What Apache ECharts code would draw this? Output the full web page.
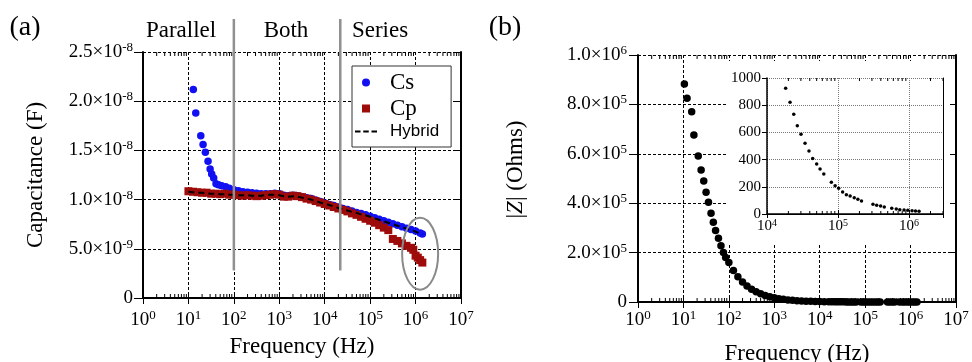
<!DOCTYPE html>
<html>
<head>
<meta charset="utf-8">
<script src="https://cdn.jsdelivr.net/npm/echarts@6/dist/echarts.min.js"></script>
<style>
  html, body { margin: 0; padding: 0; background: #fff; }
  #chart { width: 972px; height: 362px; }
</style>
</head>
<body>
<div id="chart"></div>
<script>
// (a) capacitance vs frequency, values in nF
var csFreq = [12.8, 14.5, 18.7, 21, 23.6, 27, 30, 32.5, 36, 40.5, 45.7, 53.7, 66, 79.4,
  100, 126, 158, 200, 251, 316, 398, 501, 631, 794,
  1e3, 1.26e3, 1.58e3, 2e3, 2.51e3, 3.16e3, 3.98e3, 5.01e3, 6.31e3, 7.94e3,
  1e4, 1.26e4, 1.58e4, 2e4, 2.51e4, 3.16e4, 3.98e4, 5.01e4, 6.31e4, 7.94e4,
  1e5, 1.26e5, 1.58e5, 2e5, 2.51e5, 3.16e5, 3.98e5, 5.01e5, 6.31e5, 7.94e5,
  1e6, 1.26e6, 1.41e6];
var csCap = [21.2, 18.8, 16.5, 15.6, 14.8, 13.9, 13.1, 12.6, 12.2, 11.6, 11.5, 11.4, 11.3, 11.15,
  11.0, 10.9, 10.8, 10.75, 10.7, 10.65, 10.6, 10.6, 10.6, 10.65,
  10.6, 10.45, 10.4, 10.45, 10.4, 10.3, 10.2, 10.1, 9.95, 9.8,
  9.65, 9.5, 9.4, 9.25, 9.1, 9.0, 8.85, 8.7, 8.6, 8.45,
  8.3, 8.15, 8.0, 7.85, 7.7, 7.55, 7.4, 7.25, 7.1, 6.95,
  6.8, 6.6, 6.5];

var cpFreq = [10, 12.6, 15.8, 20, 25.1, 31.6, 39.8, 50.1, 63.1, 79.4,
  100, 126, 158, 200, 251, 316, 398, 501, 631, 794,
  1e3, 1.26e3, 1.58e3, 2e3, 2.51e3, 3.16e3, 3.98e3, 5.01e3, 6.31e3, 7.94e3,
  1e4, 1.26e4, 1.58e4, 2e4, 2.51e4, 3.16e4, 3.98e4, 5.01e4, 6.31e4, 7.94e4,
  1e5, 1.26e5, 1.58e5, 2e5, 2.51e5, 3.16e5, 3.98e5, 5.01e5, 6.31e5, 7.94e5,
  8.91e5, 1e6, 1.12e6, 1.26e6, 1.41e6];
var cpCap = [10.85, 10.8, 10.75, 10.7, 10.7, 10.6, 10.6, 10.55, 10.6, 10.5,
  10.5, 10.45, 10.4, 10.45, 10.4, 10.35, 10.4, 10.45, 10.5, 10.55,
  10.5, 10.3, 10.3, 10.4, 10.35, 10.25, 10.1, 10.0, 9.85, 9.7,
  9.55, 9.4, 9.25, 9.1, 8.95, 8.8, 8.6, 8.45, 8.25, 8.05,
  7.85, 7.65, 7.4, 7.15, 6.9, 6.0, 5.8, 5.55, 5.3, 5.1,
  4.9, 4.3, 4.1, 3.85, 3.6];

var hyFreq = [10, 12.6, 15.8, 20, 25.1, 31.6, 39.8, 50.1, 63.1, 79.4,
  100, 126, 158, 200, 251, 316, 398, 501, 631, 794,
  1e3, 1.26e3, 1.58e3, 2e3, 2.51e3, 3.16e3, 3.98e3, 5.01e3, 6.31e3, 7.94e3,
  1e4, 1.26e4, 1.58e4, 2e4, 2.51e4, 3.16e4, 3.98e4, 5.01e4, 6.31e4, 7.94e4,
  1e5, 1.26e5, 1.58e5, 2e5, 2.51e5, 3.16e5, 3.98e5, 5.01e5, 6.31e5, 7.94e5,
  1e6, 1.26e6, 1.41e6];
var hyCap = [10.8, 10.75, 10.7, 10.7, 10.65, 10.6, 10.6, 10.55, 10.55, 10.5,
  10.5, 10.45, 10.45, 10.45, 10.4, 10.4, 10.4, 10.45, 10.5, 10.5,
  10.45, 10.35, 10.3, 10.35, 10.3, 10.2, 10.1, 10.0, 9.85, 9.7,
  9.6, 9.45, 9.3, 9.15, 9.0, 8.9, 8.75, 8.65, 8.5, 8.4,
  8.25, 8.1, 7.95, 7.8, 7.65, 7.5, 7.35, 7.2, 7.05, 6.9,
  6.75, 6.55, 6.45];

// (b) |Z| vs frequency, Ohms (low/mid range, then the points also shown in the inset)
var zFreq = [10.5, 12, 15.2, 17, 21.2, 24.5, 28, 31.5, 35.6, 40.5,
  45.5, 51, 59, 67, 76, 85, 100, 126, 158, 200,
  251, 316, 398, 501, 631, 794, 1e3, 1.26e3, 1.58e3, 2e3,
  2.51e3, 3.16e3, 3.98e3, 5.01e3, 6.31e3, 7.94e3, 1e4, 1.26e4, 1.58e4];
var zMag = [8.83e5, 8.25e5, 7.7e5, 6.76e5, 5.91e5, 5.34e5, 4.9e5, 4.44e5, 4.04e5, 3.59e5,
  3.23e5, 2.89e5, 2.58e5, 2.28e5, 2.0e5, 1.8e5, 1.6e5, 1.28e5, 1.02e5, 8.1e4,
  6.5e4, 5.2e4, 4.1e4, 3.3e4, 2.6e4, 2.1e4, 1.7e4, 1.35e4, 1.08e4, 8.6e3,
  6.9e3, 5.5e3, 4.4e3, 3.5e3, 2.8e3, 2.2e3, 1.75e3, 1.4e3, 1.1e3];
var insetFreq = [1.83e4, 2.11e4, 2.38e4, 2.67e4, 3.01e4, 3.43e4, 3.9e4, 4.4e4, 5.0e4, 5.58e4,
  6.3e4, 8.05e4, 9.1e4, 1.02e5, 1.16e5, 1.31e5, 1.48e5, 1.69e5, 1.9e5, 2.14e5,
  3.1e5, 3.5e5, 3.97e5, 4.47e5, 5.7e5, 6.6e5, 7.4e5, 8.5e5, 9.6e5, 1.1e6,
  1.23e6, 1.38e6];
var insetMag = [924, 821, 733, 649, 586, 520, 463, 409, 368, 331,
  294, 233, 208, 189, 162, 142, 132, 120, 108, 96,
  71, 64, 59, 51, 42, 37, 32, 29, 27, 24,
  22, 20];

// axis ticks
var capTicks = [0, 5e-9, 1e-8, 1.5e-8, 2e-8, 2.5e-8];
var zTicks = [0, 2e5, 4e5, 6e5, 8e5, 1e6];
var insetTicks = [0, 200, 400, 600, 800, 1000];
var freqRange = [1, 1e7];
var insetFreqRange = [1e4, 3e6];
var minorMult = [2, 3, 4, 5, 6, 7, 8, 9];

var serif = 'Liberation Serif';
var sans = 'Liberation Sans';
var squareIcon = 'path://M0,0L10,0L10,10L0,10Z';
var dashIcon = 'path://M0,0H6V2H0Z M9,0H15V2H9Z M18,0H24V2H18Z';

function pairs(xs, ys, k) {
  return xs.map(function (x, i) { return [x, ys[i] * (k || 1)]; });
}

function minorTicks(range) {
  var out = [];
  for (var d = range[0]; d < range[1]; d *= 10) {
    minorMult.forEach(function (m) {
      if (d * m <= range[1] * 1.0001) out.push(d * m);
    });
  }
  return out;
}

// 2.5x10^-8 style labels
function sciLabel(v) {
  if (v === 0) return '{b|0}';
  var e = Math.floor(Math.log10(v) + 1e-9);
  var m = (v / Math.pow(10, e)).toFixed(1);
  return '{b|' + m + '×10}{s|' + e + '}';
}
function powLabel(v) {
  var e = Math.log10(v);
  if (Math.abs(e - Math.round(e)) > 1e-6) return '';
  return '{b|10}{s|' + Math.round(e) + '}';
}
function plainLabel(v) { return '{b|' + v + '}'; }

function labelStyle(fmt, margin, size, sup, pad) {
  return {
    formatter: fmt, margin: margin, fontFamily: serif, fontSize: size, color: '#000',
    rich: {
      b: { fontFamily: serif, fontSize: size, color: '#000' },
      s: { fontFamily: serif, fontSize: sup, color: '#000', padding: [0, 0, pad, 0] }
    }
  };
}

var dashed = { color: '#000', width: 1, type: [3, 2] };
var dotted = { color: '#777', width: 1, type: [1, 1] };

function xBottom(grid, range, o) {
  return {
    type: 'log', logBase: 10, gridIndex: grid, min: range[0], max: range[1], z: o.z || 0,
    axisLine: { lineStyle: { color: '#000', width: o.lw } },
    axisTick: { inside: true, length: o.tick, lineStyle: { color: '#000', width: 1 } },
    axisLabel: labelStyle(powLabel, o.margin, o.fs, o.sup, o.pad),
    splitLine: { show: true, lineStyle: o.split },
    name: o.name || '', nameLocation: 'middle', nameGap: o.nameGap,
    nameTextStyle: { fontFamily: serif, fontSize: 23, color: '#000' }
  };
}
function xTop(grid, range, o) {
  return {
    type: 'log', logBase: 10, gridIndex: grid, position: 'top', min: range[0], max: range[1], z: o.z || 0,
    axisLine: { lineStyle: { color: '#000', width: o.lw } },
    axisTick: { inside: true, length: o.tick, lineStyle: { color: '#000', width: 1 } },
    axisLabel: { show: false }, splitLine: { show: false }
  };
}
function yLeft(grid, ticks, o) {
  return {
    type: 'value', gridIndex: grid, min: ticks[0], max: ticks[ticks.length - 1], interval: ticks[1] - ticks[0],
    z: o.z || 0,
    axisLine: { show: true, lineStyle: { color: '#000', width: o.lw } },
    axisTick: { show: true, inside: false, length: o.tick, lineStyle: { color: '#000', width: 1 } },
    axisLabel: labelStyle(o.fmt, o.margin, o.fs, o.sup, o.pad),
    splitLine: { show: true, lineStyle: o.split },
    name: o.name || '', nameLocation: 'middle', nameGap: o.nameGap, nameRotate: 90,
    nameTextStyle: { fontFamily: serif, fontSize: 23, color: '#000', padding: o.namePad || 0,
      rich: { i: { fontFamily: serif, fontSize: 23, fontStyle: 'italic', color: '#000' } } }
  };
}
function yRight(grid, ticks, o) {
  return {
    type: 'value', gridIndex: grid, position: 'right', min: ticks[0], max: ticks[ticks.length - 1],
    interval: ticks[1] - ticks[0], z: o.z || 0,
    axisLine: { show: true, lineStyle: { color: '#000', width: o.lw } },
    axisTick: { show: o.tick > 0, inside: true, length: o.tick, lineStyle: { color: '#000', width: 1 } },
    axisLabel: { show: false }, splitLine: { show: false }
  };
}

// short log minor ticks drawn on bottom and top edges
function minorTickSeries(xi, yi, range, yVal, len, z) {
  return {
    type: 'custom', xAxisIndex: xi, yAxisIndex: yi, silent: true, z: z, clip: false,
    data: minorTicks(range).map(function (f) { return [f, yVal]; }),
    renderItem: function (params, api) {
      var x = api.coord([api.value(0), api.value(1)])[0];
      var cs = params.coordSys;
      var st = { stroke: '#000', lineWidth: 1 };
      return { type: 'group', children: [
        { type: 'line', shape: { x1: x, y1: cs.y + cs.height, x2: x, y2: cs.y + cs.height - len }, style: st },
        { type: 'line', shape: { x1: x, y1: cs.y, x2: x, y2: cs.y + len }, style: st }
      ] };
    }
  };
}

var mainA = { lw: 2, tick: 6, margin: 11, fs: 19, sup: 13, pad: 9, split: dashed };

var option = {
  animation: false,
  backgroundColor: '#fff',
  textStyle: { fontFamily: serif },
  grid: [
    { left: 143, top: 52, width: 318, height: 246, outerBoundsMode: 'none' },
    { left: 638, top: 55, width: 318, height: 247, outerBoundsMode: 'none' },
    { left: 767, top: 78, width: 176, height: 136, outerBoundsMode: 'none' }
  ],
  legend: {
    data: [
      { name: 'Cs', icon: 'circle' },
      { name: 'Cp', icon: squareIcon },
      { name: 'Hybrid', icon: dashIcon }
    ],
    orient: 'vertical', left: 352, top: 66,
    padding: [5, 12, 7, 3], itemGap: 3, itemWidth: 22, itemHeight: 8,
    borderColor: '#333', borderWidth: 1, backgroundColor: '#fff',
    formatter: function (n) { return n === 'Hybrid' ? '{h|Hybrid}' : '{t|' + n + '}'; },
    textStyle: {
      rich: {
        t: { fontFamily: serif, fontSize: 23, color: '#000', lineHeight: 22, padding: [0, 0, 0, 8] },
        h: { fontFamily: sans, fontSize: 17, color: '#000', lineHeight: 22, padding: [0, 0, 0, 8] }
      }
    }
  },
  xAxis: [
    xBottom(0, freqRange, Object.assign({ name: 'Frequency (Hz)', nameGap: 37 }, mainA)),
    xTop(0, freqRange, mainA),
    xBottom(1, freqRange, Object.assign({ name: 'Frequency (Hz)', nameGap: 40 }, mainA, { margin: 7 })),
    xTop(1, freqRange, mainA),
    xBottom(2, insetFreqRange, { lw: 1.5, tick: 4, margin: 4, fs: 15, sup: 10, pad: 7, split: dotted, z: 10 }),
    xTop(2, insetFreqRange, { lw: 1, tick: 4, z: 10 })
  ],
  yAxis: [
    yLeft(0, capTicks, Object.assign({ fmt: sciLabel, name: 'Capacitance (F)', nameGap: 96 }, mainA, { tick: 9, margin: 10 })),
    yRight(0, capTicks, mainA),
    yLeft(1, zTicks, Object.assign({ fmt: sciLabel, name: '|{i|Z}| (Ohms)', nameGap: 111, namePad: [0, 0, 0, 18] }, mainA, { tick: 9, margin: 11 })),
    yRight(1, zTicks, mainA),
    yLeft(2, insetTicks, { fmt: plainLabel, lw: 1.5, tick: 5, margin: 6, fs: 15, sup: 10, pad: 7, split: dotted, z: 10 }),
    yRight(2, insetTicks, { lw: 1, tick: 0, z: 10 })
  ],
  series: [
    {
      name: 'Cs', type: 'scatter', xAxisIndex: 0, yAxisIndex: 0, z: 2,
      symbol: 'circle', symbolSize: 7.5, itemStyle: { color: '#1010f2', opacity: 1 },
      data: pairs(csFreq, csCap, 1e-9)
    },
    {
      name: 'Cp', type: 'scatter', xAxisIndex: 0, yAxisIndex: 0, z: 3,
      symbol: squareIcon, symbolSize: 8, itemStyle: { color: '#9e0b0b', opacity: 1 },
      data: pairs(cpFreq, cpCap, 1e-9)
    },
    {
      name: 'Hybrid', type: 'line', xAxisIndex: 0, yAxisIndex: 0, z: 4,
      symbol: 'none', showSymbol: false,
      lineStyle: { color: '#000', width: 2, type: [6, 4] }, itemStyle: { color: '#000' },
      data: pairs(hyFreq, hyCap, 1e-9)
    },
    {
      name: '|Z|', type: 'scatter', xAxisIndex: 2, yAxisIndex: 2, z: 2,
      symbol: 'circle', symbolSize: 7.5, itemStyle: { color: '#000', opacity: 1 },
      data: pairs(zFreq.concat(insetFreq), zMag.concat(insetMag))
    },
    {
      name: '|Z| inset', type: 'scatter', xAxisIndex: 4, yAxisIndex: 4, z: 12,
      symbol: 'circle', symbolSize: 3.5, itemStyle: { color: '#000', opacity: 1 },
      data: pairs(insetFreq, insetMag)
    },
    minorTickSeries(0, 0, freqRange, 0, 4, 5),
    minorTickSeries(2, 2, freqRange, 0, 4, 5),
    minorTickSeries(4, 4, insetFreqRange, 0, 3, 12)
  ]
};

var chart = echarts.init(document.getElementById('chart'));
chart.setOption(option);

// annotations: region separators, ellipse, panel labels, inset backdrop
var sepTop = 19;
var sepBottom = chart.convertToPixel({ yAxisIndex: 0 }, 2.8e-9);
var sepX = [100, 2.2e4].map(function (f) { return chart.convertToPixel({ xAxisIndex: 0 }, f); });
var ell = chart.convertToPixel({ gridIndex: 0 }, [1.26e6, 4.5e-9]);

function label(text, x, y, size, align) {
  return {
    type: 'text', x: x, y: y, z: 20,
    style: { text: text, font: size + 'px "' + serif + '"', fill: '#000',
      align: align || 'center', verticalAlign: 'middle' }
  };
}

var graphics = [
  { type: 'rect', shape: { x: 728, y: 61, width: 222, height: 182 }, style: { fill: '#fff' }, z: 5 },
  { type: 'ellipse', shape: { cx: ell[0], cy: ell[1], rx: 18, ry: 36 },
    style: { fill: 'none', stroke: '#8a8a8a', lineWidth: 2 }, z: 20 },
  label('(a)', 25, 28, 28),
  label('(b)', 505, 28, 28),
  label('Parallel', 181, 31, 23),
  label('Both', 286, 31, 23),
  label('Series', 380, 31, 23)
];
sepX.forEach(function (x) {
  graphics.push({ type: 'line', shape: { x1: x, y1: sepTop, x2: x, y2: sepBottom },
    style: { stroke: '#909090', lineWidth: 2.5 }, z: 20 });
});
chart.setOption({ graphic: graphics });
</script>
</body>
</html>
